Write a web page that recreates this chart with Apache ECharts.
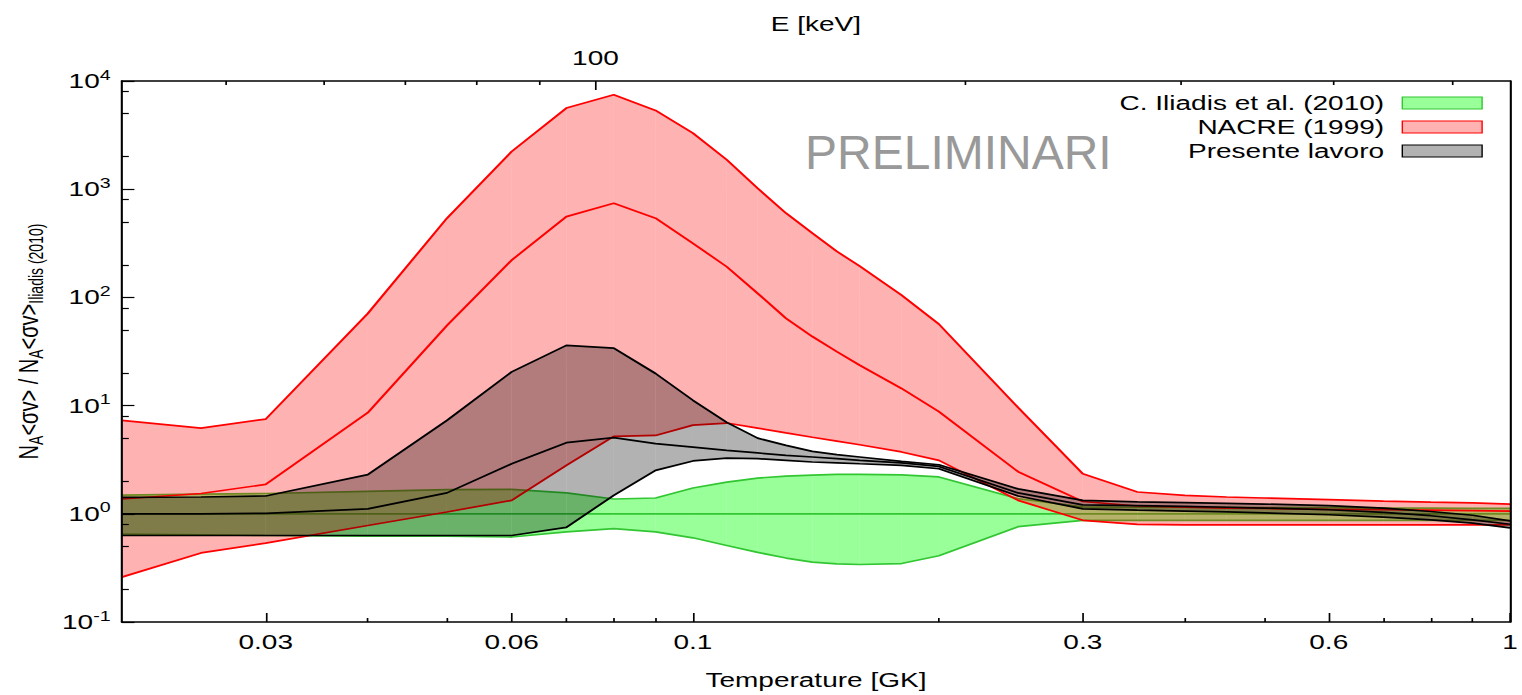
<!DOCTYPE html>
<html>
<head>
<meta charset="utf-8">
<script src="https://cdn.jsdelivr.net/npm/echarts/dist/echarts.min.js"></script>
<style>
  html, body { margin: 0; padding: 0; background: #fff; overflow: hidden; }
  /* the original figure is stretched sideways, so the chart is drawn narrow and scaled */
  #main { width: 1087px; height: 695px; transform: scaleX(1.4002); transform-origin: 0 0; }
</style>
</head>
<body>
<div id="main"></div>
<script>
// temperature grid [GK]
const temperature = [0.02, 0.025, 0.03, 0.04, 0.05, 0.06, 0.07, 0.08, 0.09, 0.1, 0.11, 0.12, 0.13, 0.14, 0.15,
  0.16, 0.18, 0.2, 0.25, 0.3, 0.35, 0.4, 0.45, 0.5, 0.6, 0.7, 0.8, 0.9, 1.0];

// C. Iliadis et al. (2010)
const iliadisLow = [0.65, 0.64, 0.63, 0.62, 0.62, 0.61, 0.68, 0.73, 0.68, 0.60, 0.51, 0.44, 0.39, 0.357, 0.345,
  0.34, 0.347, 0.41, 0.76, 0.87, 0.87, 0.87, 0.87, 0.87, 0.87, 0.87, 0.87, 0.87, 0.87];
const iliadisMid = [1, 1, 1, 1, 1, 1, 1, 1, 1, 1, 1, 1, 1, 1, 1, 1, 1, 1, 1, 1, 1, 1, 1, 1, 1, 1, 1, 1, 1];
const iliadisHigh = [1.49, 1.52, 1.54, 1.61, 1.67, 1.68, 1.56, 1.37, 1.40, 1.73, 1.96, 2.14, 2.23, 2.28, 2.31,
  2.31, 2.29, 2.19, 1.38, 1.16, 1.15, 1.15, 1.15, 1.14, 1.14, 1.13, 1.13, 1.12, 1.12];

// NACRE (1999)
const nacreLow = [0.26, 0.435, 0.536, 0.78, 1.04, 1.33, 2.8, 5.2, 5.3, 6.6, 6.9, 6.2, 5.6, 5.1, 4.7,
  4.35, 3.73, 3.12, 1.33, 0.87, 0.80, 0.79, 0.79, 0.79, 0.79, 0.79, 0.79, 0.79, 0.79];
const nacreMid = [1.37, 1.54, 1.87, 8.6, 55, 221, 558, 742, 539, 316, 192, 109, 64, 43.5, 31.6,
  23.6, 14.4, 8.8, 2.45, 1.30, 1.18, 1.15, 1.13, 1.12, 1.10, 1.09, 1.08, 1.07, 1.06];
const nacreHigh = [7.3, 6.2, 7.5, 71, 540, 2230, 5620, 7470, 5350, 3300, 1870, 1020, 600, 392, 266,
  195, 105, 56.6, 9.6, 2.35, 1.59, 1.48, 1.43, 1.40, 1.35, 1.31, 1.28, 1.26, 1.23];

// Presente lavoro
const presentLow = [0.63, 0.63, 0.63, 0.63, 0.63, 0.63, 0.75, 1.48, 2.52, 3.08, 3.27, 3.23, 3.12, 3.01, 2.96,
  2.9, 2.8, 2.61, 1.46, 1.11, 1.08, 1.06, 1.04, 1.02, 0.98, 0.93, 0.88, 0.82, 0.74];
const presentMid = [1.0, 1.0, 1.01, 1.11, 1.56, 2.9, 4.54, 5.06, 4.45, 4.14, 3.85, 3.65, 3.47, 3.35, 3.23,
  3.12, 2.95, 2.74, 1.56, 1.21, 1.19, 1.17, 1.15, 1.13, 1.09, 1.03, 0.96, 0.88, 0.80];
const presentHigh = [1.42, 1.43, 1.46, 2.30, 7.3, 20.5, 36, 34, 19.8, 11.2, 7.0, 5.0, 4.29, 3.78, 3.52,
  3.35, 3.05, 2.84, 1.70, 1.33, 1.29, 1.27, 1.25, 1.23, 1.19, 1.13, 1.05, 0.97, 0.86];

// axes / tick labels
const tempRange = [0.02, 1];
const tempMajor = [0.03, 0.06, 0.1, 0.3, 0.6, 1];
const tempMinor = [0.04, 0.05, 0.07, 0.08, 0.09, 0.2, 0.4, 0.5, 0.7, 0.8, 0.9];
const ratioRange = [0.1, 10000];
const ratioMajor = [0.1, 1, 10, 100, 1000, 10000];
const ratioMinor = [0.2, 0.5, 0.8, 2, 5, 8, 20, 50, 80, 200, 500, 800, 2000, 5000, 8000];
const energyRange = [41.1, 556.7];
const energyMajor = [100];
const energyMinor = [50, 60, 70, 80, 90, 200, 300, 400, 500];

const STRETCH = 1.4002;
const FONT = 'Liberation Sans, Arial, sans-serif';
const lg = v => Math.round(Math.log10(v) * 1e9) / 1e9;

function bandSeries(name, low, high, fill, z) {
  const data = [];
  for (let i = 0; i < temperature.length - 1; i++) {
    data.push([temperature[i], low[i], high[i], temperature[i + 1], low[i + 1], high[i + 1]]);
  }
  return {
    type: 'custom', name: name, z: z, silent: true, clip: true,
    encode: { x: [0, 3], y: [1, 2, 4, 5] },
    itemStyle: { color: fill },
    data: data,
    renderItem: function (params, api) {
      const pts = [
        api.coord([api.value(0), api.value(1)]),
        api.coord([api.value(3), api.value(4)]),
        api.coord([api.value(3), api.value(5)]),
        api.coord([api.value(0), api.value(2)])
      ];
      return { type: 'polygon', shape: { points: pts }, style: { fill: fill } };
    }
  };
}

function lineSeries(name, values, color, z) {
  return {
    type: 'line', name: name, z: z, silent: true, clip: true,
    symbol: 'none', showSymbol: false,
    lineStyle: { color: color, width: 1.7 },
    itemStyle: { color: color },
    data: temperature.map((t, i) => [t, values[i]])
  };
}

// decorative axes in log10 units, laid over the real log axes
function tickAxis(pos, range, values, len, extra) {
  return Object.assign({
    type: 'value', position: pos, min: lg(range[0]), max: lg(range[1]), z: 10,
    axisLine: { show: false, onZero: false },
    axisTick: { show: true, inside: true, length: len, customValues: values.map(lg),
      lineStyle: { color: '#000', width: 1.2 } },
    axisLabel: { show: false },
    splitLine: { show: false }
  }, extra || {});
}

const frameLine = { show: true, onZero: false, lineStyle: { color: '#000', width: 1.5 } };
const labelStyle = { fontSize: 20, color: '#000', fontFamily: FONT };

const chart = echarts.init(document.getElementById('main'), null, { renderer: 'svg' });
const option = {
  animation: false,
  backgroundColor: '#fff',
  grid: { left: 87, right: 6, top: 81, bottom: 72 },
  xAxis: [
    { type: 'log', logBase: 10, min: tempRange[0], max: tempRange[1], show: false },
    tickAxis('bottom', tempRange, tempMajor, 9, {
      axisLine: frameLine,
      axisLabel: Object.assign({ show: true, margin: 10, customValues: tempMajor.map(lg),
        formatter: v => String(parseFloat(Math.pow(10, v).toPrecision(6))) }, labelStyle),
      name: 'Temperature [GK]', nameLocation: 'middle', nameGap: 48,
      nameTextStyle: labelStyle
    }),
    tickAxis('bottom', tempRange, tempMinor, 4),
    tickAxis('top', energyRange, energyMajor, 9, {
      axisLine: frameLine,
      axisLabel: Object.assign({ show: true, margin: 13, customValues: energyMajor.map(lg),
        formatter: v => String(Math.round(Math.pow(10, v))) }, labelStyle),
      name: 'E [keV]', nameLocation: 'middle', nameGap: 47,
      nameTextStyle: labelStyle
    }),
    tickAxis('top', energyRange, energyMinor, 4)
  ],
  yAxis: [
    { type: 'log', logBase: 10, min: ratioRange[0], max: ratioRange[1], show: false },
    tickAxis('left', ratioRange, ratioMajor, 9, {
      axisLine: frameLine,
      axisLabel: Object.assign({ show: true, margin: 8, customValues: ratioMajor.map(lg),
        formatter: v => '10{sup|' + Math.round(v) + '}',
        rich: { sup: { fontSize: 14, color: '#000', fontFamily: FONT, padding: [0, 0, 12, 0] } }
      }, labelStyle),
      name: 'N{s|A}<σv> / N{s|A}<σv>{s|Iliadis (2010)}', nameLocation: 'middle', nameGap: 52,
      nameTextStyle: Object.assign({
        padding: [0, 0, 0, 20],
        rich: { s: { fontSize: 14, color: '#000', fontFamily: FONT, padding: [12, 0, 0, 0] } }
      }, labelStyle)
    }),
    tickAxis('left', ratioRange, ratioMinor, 5),
    tickAxis('right', ratioRange, ratioMajor, 0, {
      axisTick: { show: false },
      axisLine: frameLine
    })
  ],
  legend: {
    orient: 'vertical', align: 'right', right: 23, top: 86,
    itemWidth: 57, itemHeight: 12, itemGap: 0, icon: 'rect', selectedMode: false, z: 20,
    textStyle: { fontSize: 20, color: '#000', fontFamily: FONT, lineHeight: 24, padding: [0, 8, 0, 0] },
    data: [
      { name: 'C. Iliadis et al. (2010)', itemStyle: { color: '#99ff99', borderColor: '#33c633', borderWidth: 1 } },
      { name: 'NACRE (1999)', itemStyle: { color: '#ffb2b2', borderColor: '#ff0000', borderWidth: 1 } },
      { name: 'Presente lavoro', itemStyle: { color: '#b2b2b2', borderColor: '#000', borderWidth: 1 } }
    ]
  },
  graphic: [{
    type: 'text', x: 575, y: 152, scaleX: 1 / STRETCH, z: 15, silent: true,
    style: { text: 'PRELIMINARI', fontSize: 48, fontFamily: FONT, fill: '#999999', verticalAlign: 'middle' }
  }],
  series: [
    bandSeries('C. Iliadis et al. (2010)', iliadisLow, iliadisHigh, 'rgba(0,255,0,0.4)', 2),
    lineSeries('iliadis-low', iliadisLow, '#33c633', 3),
    lineSeries('iliadis-mid', iliadisMid, '#33c633', 3),
    lineSeries('iliadis-high', iliadisHigh, '#33c633', 3),
    bandSeries('NACRE (1999)', nacreLow, nacreHigh, 'rgba(255,0,0,0.3)', 4),
    lineSeries('nacre-low', nacreLow, '#ff0000', 5),
    lineSeries('nacre-mid', nacreMid, '#ff0000', 5),
    lineSeries('nacre-high', nacreHigh, '#ff0000', 5),
    bandSeries('Presente lavoro', presentLow, presentHigh, 'rgba(0,0,0,0.3)', 6),
    lineSeries('present-low', presentLow, '#000', 7),
    lineSeries('present-mid', presentMid, '#000', 7),
    lineSeries('present-high', presentHigh, '#000', 7)
  ]
};
chart.setOption(option);
</script>
</body>
</html>
